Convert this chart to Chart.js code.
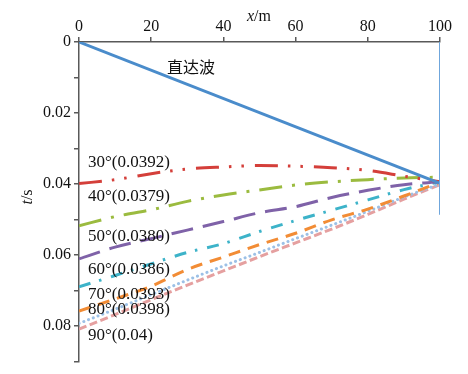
<!DOCTYPE html>
<html>
<head>
<meta charset="utf-8">
<script src="https://cdn.jsdelivr.net/npm/chart.js@4"></script>
<style>
html,body{margin:0;padding:0;background:#fff;}
canvas{display:block;}
</style>
</head>
<body>
<canvas id="c" width="468" height="374"></canvas>
<script>
// ---- data ----
const xs = [0, 10, 20, 30, 40, 50, 60, 70, 80, 90, 100];
const t30 = [0.0399, 0.0388, 0.0371, 0.0358, 0.0352, 0.0348, 0.0350, 0.0354, 0.0362, 0.0378, 0.0394];
const t40 = [0.0518, 0.0492, 0.0473, 0.0449, 0.0431, 0.0417, 0.0403, 0.0394, 0.0388, 0.0383, 0.0381];
const t50 = [0.0611, 0.0578, 0.0554, 0.0530, 0.0506, 0.0481, 0.0464, 0.0438, 0.0418, 0.0402, 0.0394];
const t60 = [0.0690, 0.0658, 0.0625, 0.0593, 0.0568, 0.0534, 0.0503, 0.0474, 0.0445, 0.0416, 0.0394];
const t70 = [0.0758, 0.0724, 0.0688, 0.0641, 0.0606, 0.0571, 0.0539, 0.0501, 0.0471, 0.0434, 0.0395];
const t80 = [0.0793, 0.0753, 0.0712, 0.0671, 0.0631, 0.0593, 0.0554, 0.0516, 0.0477, 0.0437, 0.0400];
const t90 = [0.0809, 0.0768, 0.0726, 0.0685, 0.0645, 0.0605, 0.0566, 0.0527, 0.0486, 0.0443, 0.0402];
const directX = [0, 100];
const directT = [0, 0.0398];
const wallX = [100, 100];
const wallT = [0, 0.0487];
const xTicks = [0, 20, 40, 60, 80, 100];
const yTicksMajor = [0, 0.02, 0.04, 0.06, 0.08];
const labelTexts = ['直达波', '30°(0.0392)', '40°(0.0379)', '50°(0.0380)', '60°(0.0386)', '70°(0.0393)', '80°(0.0398)', '90°(0.04)'];

// annotation anchor positions (data units)
const labelPos = [[31, 0.0070], [2.5, 0.0340], [2.5, 0.0436], [2.5, 0.0547], [2.5, 0.0641], [2.5, 0.0712], [2.5, 0.0754], [2.5, 0.0828]];

const pts = (xa, ya) => xa.map((x, i) => ({x: x, y: ya[i]}));

function curve(data, color, dash, cap) {
  return {
    data: data, borderColor: color, borderWidth: 3, borderDash: dash,
    borderCapStyle: cap || 'butt', pointRadius: 0, fill: false,
    cubicInterpolationMode: 'monotone'
  };
}

const serif = '"Liberation Serif", "Times New Roman", serif';

const annot = {
  id: 'annot',
  afterDatasetsDraw(chart) {
    const ctx = chart.ctx;
    const xs_ = chart.scales.x, ys_ = chart.scales.y;
    ctx.save();
    ctx.fillStyle = '#111';
    ctx.textBaseline = 'middle';
    labelTexts.forEach((txt, i) => {
      const px = xs_.getPixelForValue(labelPos[i][0]);
      const py = ys_.getPixelForValue(labelPos[i][1]);
      if (i === 0) {
        ctx.font = '16px "Noto Sans CJK SC", sans-serif';
        ctx.textAlign = 'center';
      } else {
        ctx.font = '17px ' + serif;
        ctx.textAlign = 'left';
      }
      ctx.fillText(txt, px, py);
    });
    // x axis title: italic x + "/m"
    ctx.textAlign = 'left';
    ctx.font = 'italic 16px ' + serif;
    const w1 = ctx.measureText('x').width;
    ctx.font = '16px ' + serif;
    const w2 = ctx.measureText('/m').width;
    let sx = 259 - (w1 + w2) / 2;
    ctx.font = 'italic 16px ' + serif;
    ctx.fillText('x', sx, 17);
    ctx.font = '16px ' + serif;
    ctx.fillText('/m', sx + w1, 17);
    // y axis title rotated
    ctx.translate(28, 197);
    ctx.rotate(-Math.PI / 2);
    ctx.font = 'italic 16px ' + serif;
    const v1 = ctx.measureText('t').width;
    ctx.font = '16px ' + serif;
    const v2 = ctx.measureText('/s').width;
    let sy = -(v1 + v2) / 2;
    ctx.font = 'italic 16px ' + serif;
    ctx.fillText('t', sy, 0);
    ctx.font = '16px ' + serif;
    ctx.fillText('/s', sy + v1, 0);
    ctx.restore();
  }
};

new Chart(document.getElementById('c'), {
  type: 'line',
  data: {
    datasets: [
      {data: pts(wallX, wallT), borderColor: '#6fa6dc', borderWidth: 2, pointRadius: 0, fill: false},
      {data: pts(directX, directT), borderColor: '#4a8ccb', borderWidth: 3, pointRadius: 0, fill: false},
      curve(pts(xs, t30), '#d43f3a', [23, 10, 2.5, 10, 2.5, 11]),
      curve(pts(xs, t40), '#9bbb3f', [23, 10, 3, 10]),
      curve(pts(xs, t50), '#7f62a8', [22, 10]),
      curve(pts(xs, t60), '#3db3c9', [12, 9, 2.5, 10]),
      curve(pts(xs, t70), '#f28c35', [12, 8]),
      curve(pts(xs, t80), '#9cc0e6', [0.1, 5], 'round'),
      curve(pts(xs, t90), '#e5a0a0', [8, 3.5])
    ]
  },
  options: {
    responsive: false,
    animation: false,
    devicePixelRatio: 1,
    layout: {padding: {left: 0, right: 28, top: 0, bottom: 12}},
    plugins: {legend: {display: false}, tooltip: {enabled: false}},
    scales: {
      x: {
        type: 'linear', position: 'top', min: 0, max: 100,
        afterFit: (s) => { s.height = 42; },
        afterBuildTicks: (s) => { s.ticks = xTicks.map(v => ({value: v})); },
        ticks: {color: '#111', font: {family: serif, size: 16}, padding: 1, maxRotation: 0, autoSkip: false},
        grid: {drawOnChartArea: false, drawTicks: true, tickLength: 5, color: '#595959', lineWidth: 1.5},
        border: {display: true, color: '#595959', width: 1.5}
      },
      y: {
        type: 'linear', reverse: true, min: 0, max: 0.09,
        afterFit: (s) => { s.width = 79; },
        ticks: {
          stepSize: 0.01, color: '#111', font: {family: serif, size: 16}, padding: 3, autoSkip: false,
          callback: (v) => {
            const isMajor = yTicksMajor.some(m => Math.abs(m - v) < 1e-9);
            if (!isMajor) return '';
            return v === 0 ? '0' : v.toFixed(2);
          }
        },
        grid: {drawOnChartArea: false, drawTicks: true, tickLength: 5, color: '#595959', lineWidth: 1.5},
        border: {display: true, color: '#595959', width: 1.5}
      }
    }
  },
  plugins: [annot]
});
</script>
</body>
</html>
